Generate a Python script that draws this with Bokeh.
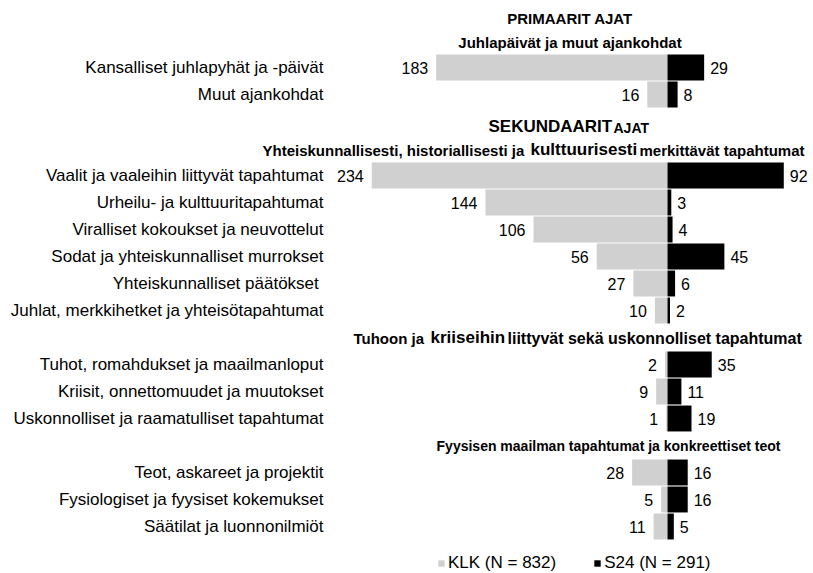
from bokeh.plotting import figure
from bokeh.models import ColumnDataSource, Range1d, Legend, LegendItem
from bokeh.core.properties import value
from bokeh.embed import file_html
from bokeh.resources import INLINE

# ---------------- data ----------------
group_titles = [
    "Juhlapäivät ja muut ajankohdat",
    "Yhteiskunnallisesti, historiallisesti ja kulttuurisesti merkittävät tapahtumat",
    "Tuhoon ja kriiseihin liittyvät sekä uskonnolliset tapahtumat",
    "Fyysisen maailman tapahtumat ja konkreettiset teot",
]
categories = [
    "Kansalliset juhlapyhät ja -päivät",
    "Muut ajankohdat",
    "Vaalit ja vaaleihin liittyvät tapahtumat",
    "Urheilu- ja kulttuuritapahtumat",
    "Viralliset kokoukset ja neuvottelut",
    "Sodat ja yhteiskunnalliset murrokset",
    "Yhteiskunnalliset päätökset ",
    "Juhlat, merkkihetket ja yhteisötapahtumat",
    "Tuhot, romahdukset ja maailmanloput",
    "Kriisit, onnettomuudet ja muutokset",
    "Uskonnolliset ja raamatulliset tapahtumat",
    "Teot, askareet ja projektit",
    "Fysiologiset ja fyysiset kokemukset",
    "Säätilat ja luonnonilmiöt",
]
category_group = [0, 0, 1, 1, 1, 1, 1, 1, 2, 2, 2, 3, 3, 3]
klk = [183, 16, 234, 144, 106, 56, 27, 10, 2, 9, 1, 28, 5, 11]
s24 = [29, 8, 92, 3, 4, 45, 6, 2, 35, 11, 19, 16, 16, 5]
series_labels = ["KLK (N = 832)", "S24 (N = 291)"]

# ---------------- layout (row slots) ----------------
slots = []
slot = 0  # slot 0 : "PRIMAARIT AJAT"
prev = None
for g in category_group:
    if g != prev:
        if g == 1:
            slot += 1  # "SEKUNDAARIT AJAT"
        slot += 1      # group header
        prev = g
    slot += 1
    slots.append(slot)

W, H = 813, 573
PX = 1.264           # pixels per unit
CX = 667             # zero line in canvas px
x0 = -CX / PX
x1 = x0 + W / PX
ROW = 27.0
Y0 = 13.0            # canvas y of slot 0 center
def ys(py):
    return (py - Y0) / ROW

p = figure(width=W, height=H, output_backend="svg", toolbar_location=None,
           x_range=Range1d(x0, x1), y_range=Range1d(ys(H), ys(0)),
           min_border=0, outline_line_color=None)
p.axis.visible = False
p.grid.visible = False
p.background_fill_color = "white"
p.border_fill_color = "white"

def dx(sx):
    return (sx - CX) / PX

src = ColumnDataSource(dict(
    y=slots,
    klk_left=[-v for v in klk],
    zero=[0] * len(klk),
    s24=s24,
    klk_txt=[str(v) for v in klk],
    s24_txt=[str(v) for v in s24],
    cat=categories,
    lab_x=[dx(323)] * len(klk),
))

FONT = value("Liberation Sans")

r_klk = p.hbar(y="y", left="klk_left", right="zero", height=0.96, source=src,
               fill_color="#d0d0d0", line_color=None)
r_s24 = p.hbar(y="y", left="zero", right="s24", height=0.96, source=src,
               fill_color="#000000", line_color=None)

p.text(x="klk_left", y="y", text="klk_txt", source=src, text_align="right",
       text_baseline="middle", x_offset=-8, text_font=FONT, text_font_size="16px",
       text_color="#000000")
p.text(x="s24", y="y", text="s24_txt", source=src, text_align="left",
       text_baseline="middle", x_offset=6, text_font=FONT, text_font_size="16px",
       text_color="#000000")
p.text(x="lab_x", y="y", text="cat", source=src, text_align="right",
       text_baseline="middle", text_font=FONT, text_font_size="17px",
       text_color="#000000")

# ---------------- headers ----------------
def seg(txt, sx, sy, size, align="left"):
    p.text(x=[dx(sx)], y=[ys(sy)], text=[txt], text_align=align,
           text_baseline="middle", text_font=FONT, text_font_style="bold",
           text_font_size=size, text_color="#000000")

seg("PRIMAARIT AJAT", 569.5, 17.5, "15px", "center")
seg(group_titles[0], 569.5, 42, "15px", "center")

seg("SEKUNDAARIT", 488, 126, "17px")
seg("AJAT", 613, 127, "14px")

seg("Yhteiskunnallisesti, historiallisesti ja", 262, 149.5, "15px")
seg("kulttuurisesti", 530, 149, "17px")
seg("merkittävät tapahtumat", 639, 150, "15px")

seg("Tuhoon ja", 353, 337.5, "15px")
seg("kriiseihin", 430, 337, "17px")
seg("liittyvät sekä uskonnolliset tapahtumat", 507, 337.5, "16px")

seg(group_titles[3], 608, 445, "14px", "center")

# ---------------- legend ----------------
legend = Legend(items=[LegendItem(label=series_labels[0], renderers=[r_klk]),
                       LegendItem(label=series_labels[1], renderers=[r_s24])],
                orientation="horizontal", location=(437, 0),
                glyph_width=8, glyph_height=8, label_standoff=3, spacing=37,
                padding=0, margin=0, label_height=16,
                label_text_font="Liberation Sans", label_text_font_size="17px",
                label_text_color="#000000",
                background_fill_alpha=0, border_line_color=None)
p.add_layout(legend)

open("out.html", "w").write(file_html(p, INLINE))
